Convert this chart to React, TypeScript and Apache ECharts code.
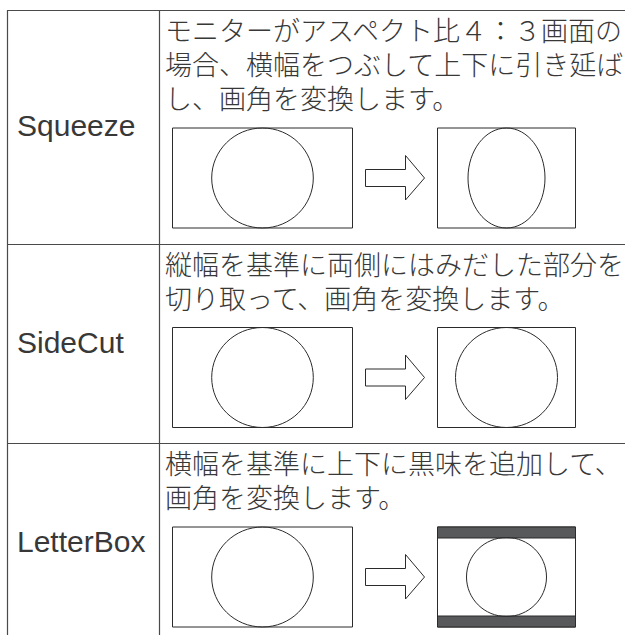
import React, { useEffect, useRef } from "react";
import * as echarts from "echarts";

const modes = ["Squeeze", "SideCut", "LetterBox"];
const descriptions = [
  ["モニターがアスペクト比４：３画面の", "場合、横幅をつぶして上下に引き延ば", "し、画角を変換します。"],
  ["縦幅を基準に両側にはみだした部分を", "切り取って、画角を変換します。"],
  ["横幅を基準に上下に黒味を追加して、", "画角を変換します。"],
];
const resultKinds = ["squeeze", "sidecut", "letterbox"];

const W = 625;
const H = 635;
const LINE = "#4a4a4a";
const INK = "#2b2b2b";
const TEXT = "#383838";
const BAR = "#58595b";

export default function App() {
  const ref = useRef<HTMLDivElement>(null);
  useEffect(() => {
    if (!ref.current) return;
    const chart = echarts.init(ref.current, null, { renderer: "svg" });
    const els: any[] = [];
    const leftX = 7.5;
    const divX = 159.5;
    const textX = 165;
    const lineGap = 34;
    let rowTop = 10;
    const rowTops: number[] = [];
    descriptions.forEach((d, i) => {
      rowTops.push(rowTop);
      const firstLine = rowTop + 19.5;
      const boxTop = firstLine + (d.length - 1) * lineGap + 30;
      const rowBottom = boxTop + 116;
      els.push({
        type: "text",
        style: {
          text: d.join("\n"),
          x: textX,
          y: firstLine - lineGap / 2,
          fontSize: 27,
          fontWeight: 300,
          lineHeight: lineGap,
          fontFamily: '"Noto Sans CJK JP"',
          fill: TEXT,
          verticalAlign: "top",
          align: "left",
        },
      });
      els.push({
        type: "text",
        style: {
          text: modes[i],
          x: 17,
          y: (rowTop + rowBottom) / 2 - 1,
          fontSize: 30,
          lineHeight: 32,
          fontFamily: '"Liberation Sans", Arial',
          fill: TEXT,
          verticalAlign: "middle",
          align: "left",
        },
      });
      const cy = boxTop + 50;
      els.push({
        type: "rect",
        shape: { x: 172.5, y: boxTop + 0.5, width: 180, height: 100 },
        style: { fill: "#fff", stroke: INK, lineWidth: 1 },
      });
      els.push({
        type: "ellipse",
        shape: { cx: 262.5, cy: cy + 0.5, rx: 50.8, ry: 50 },
        style: { fill: "none", stroke: INK, lineWidth: 1 },
      });
      els.push({
        type: "polygon",
        shape: {
          points: [
            [365.5, cy - 8],
            [405.5, cy - 8],
            [405.5, cy - 22],
            [424.5, cy + 0.5],
            [405.5, cy + 22.5],
            [405.5, cy + 9],
            [365.5, cy + 9],
          ],
        },
        style: { fill: "#fff", stroke: INK, lineWidth: 1 },
      });
      const kind = resultKinds[i];
      els.push({
        type: "rect",
        shape: { x: 437.5, y: boxTop + 0.5, width: 138, height: 100 },
        style: { fill: "#fff", stroke: INK, lineWidth: 1 },
      });
      if (kind === "squeeze") {
        els.push({
          type: "ellipse",
          shape: { cx: 506.5, cy: cy + 0.5, rx: 38.5, ry: 50 },
          style: { fill: "none", stroke: INK, lineWidth: 1 },
        });
      } else if (kind === "sidecut") {
        els.push({
          type: "ellipse",
          shape: { cx: 506.5, cy: cy + 0.5, rx: 51, ry: 50 },
          style: { fill: "none", stroke: INK, lineWidth: 1 },
        });
      } else {
        els.push({
          type: "rect",
          shape: { x: 437.5, y: boxTop + 0.5, width: 138, height: 11 },
          style: { fill: BAR, stroke: INK, lineWidth: 1 },
        });
        els.push({
          type: "rect",
          shape: { x: 437.5, y: boxTop + 89.5, width: 138, height: 11 },
          style: { fill: BAR, stroke: INK, lineWidth: 1 },
        });
        els.push({
          type: "ellipse",
          shape: { cx: 506.5, cy: cy + 0.5, rx: 40, ry: 39.5 },
          style: { fill: "none", stroke: INK, lineWidth: 1 },
        });
      }
      rowTop = rowBottom;
    });
    const tableLines: any[] = [];
    rowTops.forEach((t) => {
      tableLines.push({
        type: "line",
        shape: { x1: leftX, y1: Math.round(t) + 0.5, x2: W, y2: Math.round(t) + 0.5 },
        style: { stroke: LINE, lineWidth: 1.2 },
      });
    });
    tableLines.push({
      type: "line",
      shape: { x1: leftX, y1: 10, x2: leftX, y2: H },
      style: { stroke: LINE, lineWidth: 1.2 },
    });
    tableLines.push({
      type: "line",
      shape: { x1: divX, y1: 10, x2: divX, y2: H },
      style: { stroke: LINE, lineWidth: 1.2 },
    });
    chart.setOption({
      animation: false,
      backgroundColor: "#ffffff",
      graphic: { elements: [...tableLines, ...els] },
    });
    return () => chart.dispose();
  }, []);
  return (
    <div
      ref={ref}
      style={{ position: "absolute", left: 0, top: 0, width: W, height: H }}
    />
  );
}
